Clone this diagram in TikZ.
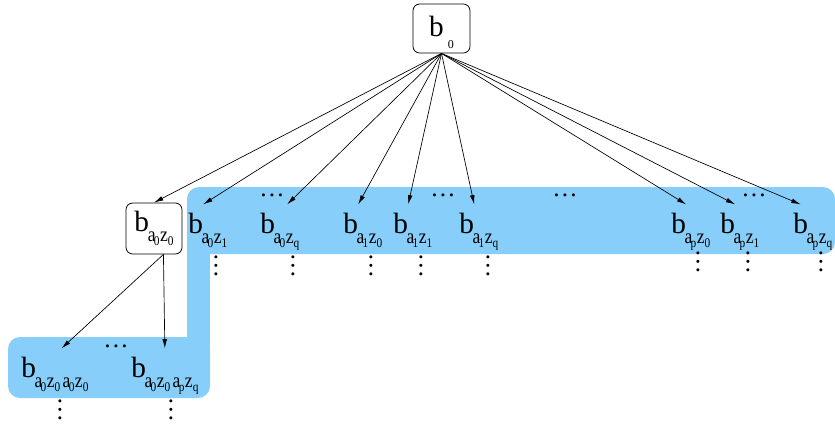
\documentclass[tikz,border=0pt]{standalone}
\usepackage{fontspec}
\setmainfont{Liberation Serif}
\usetikzlibrary{arrows.meta}

\definecolor{skyband}{RGB}{135,206,250}

\newcommand\bb{{\fontsize{22}{22}\selectfont b}}
\newcommand\sa[1]{a\kern-1.5pt\raisebox{-3pt}{\fontsize{10}{10}\selectfont #1}}
\newcommand\sz[1]{\kern0.5pt z\raisebox{-3pt}{\fontsize{10}{10}\selectfont #1}}
\newcommand\bsub[1]{\kern-1pt\raisebox{-7.5pt}{\scalebox{0.85}[1]{\fontsize{15.5}{15.5}\selectfont #1}}}
\newcommand\hdts{{\fontsize{19}{19}\selectfont …}}
\newcommand\vdts{\rotatebox{90}{\fontsize{19}{19}\selectfont …}}

\tikzset{
  arr/.style={-{Latex[length=7pt,width=3.5pt]}, line width=0.5pt},
  box/.style={draw, rounded corners=5pt, line width=0.6pt, inner sep=0pt, minimum width=42pt, minimum height=38.25pt},
  bn/.style={anchor=base west, inner xsep=0pt, inner ysep=6pt, text depth=0pt},
  dts/.style={inner sep=0pt},
}

\begin{document}
\begin{tikzpicture}[x=0.75pt,y=0.75pt,yscale=-1,xscale=1]
\useasboundingbox (0,0) rectangle (835,426);

%Shape: blue band
\fill[skyband, rounded corners=9pt] (187,187) rectangle (835,254);
\fill[skyband, rounded corners=9pt] (8,337) rectangle (210,398);
\fill[skyband] (187,240) rectangle (210,350);

% Boxes
\node[box, minimum width=42.75pt, minimum height=36.75pt, text height=21.5pt, text depth=9pt] (b0) at (441.5,28.5) {\bb\kern3pt\raisebox{-9pt}{\fontsize{9}{9}\selectfont 0}};
\node[box] (a0z0) at (154,228.5) {\bb\bsub{\sa0\sz0}};

% Text Node
\node[bn] (a0z1) at (188,233) {\bb\rlap{\bsub{\sa0\sz1}}};
\node[bn] (a0zq) at (260,233) {\bb\rlap{\bsub{\sa0\sz q}}};
\node[bn] (a1z0) at (343,233) {\bb\rlap{\bsub{\sa1\sz0}}};
\node[bn] (a1z1) at (393,233) {\bb\rlap{\bsub{\sa1\sz1}}};
\node[bn] (a1zq) at (459,233) {\bb\rlap{\bsub{\sa1\sz q}}};
\node[bn] (apz0) at (671,233) {\bb\rlap{\bsub{\sa p\sz0}}};
\node[bn] (apz1) at (720,233) {\bb\rlap{\bsub{\sa p\sz1}}};
\node[bn] (apzq) at (793,233) {\bb\rlap{\bsub{\sa p\sz q}}};
% Text Node
\node[bn] (c00) at (21,377) {\bb\bsub{\sa0\sz0\kern2pt\sa0\sz0}};
\node[bn] (c0q) at (131,377) {\bb\bsub{\sa0\sz0\kern2pt\sa p\sz q}};

% dots
\node[dts] (h1) at (272,195) {\hdts};
\node[dts] (h2) at (443,195) {\hdts};
\node[dts] (h3) at (565,195) {\hdts};
\node[dts] (h4) at (754,195) {\hdts};
\node[dts] (h5) at (116,346) {\hdts};
\foreach \x/\y in {216/266,293/266,371/266,421/266,488/266,698/262,748/262,821/262,60/410,171/410}
  \node[dts] (v\x) at (\x,\y) {\vdts};

% Straight Lines
\draw[arr] (b0.south) -- (a0z0.north);
\draw[arr] (b0.south) -- (a0z1.north east);
\draw[arr] (b0.south) -- ([xshift=9pt]a0zq.north east);
\foreach \n in {a1z0,a1z1,a1zq,apz0,apz1}
  \draw[arr] (b0.south) -- (\n.north east);
\draw[arr] (b0.south) -- (apzq.north);
\draw[arr] (a0z0.-70) -- (c00.70);
\draw[arr] (a0z0.-70) -- (c0q.north);

\end{tikzpicture}
\end{document}
